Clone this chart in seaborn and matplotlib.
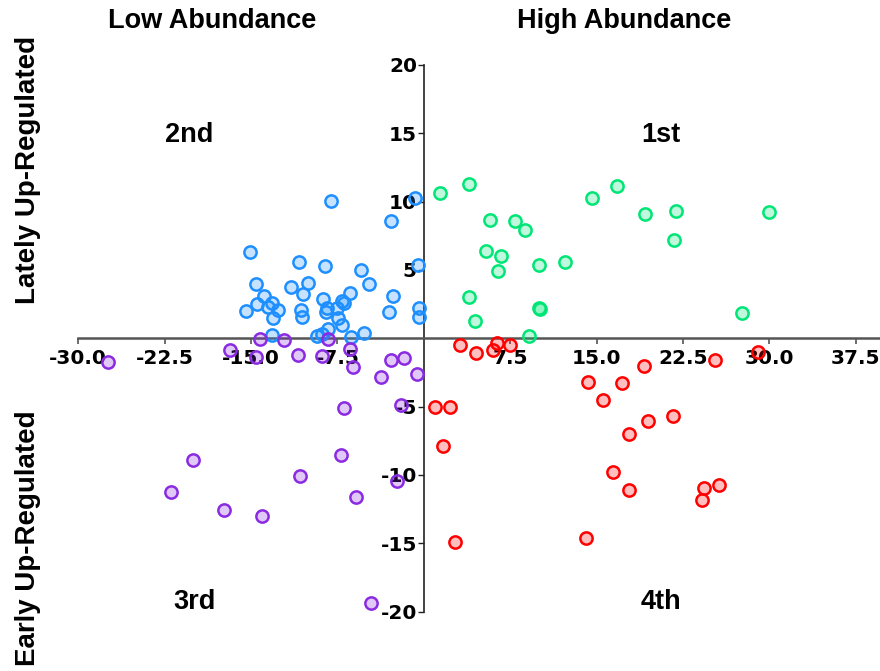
import matplotlib
matplotlib.use("Agg")
import matplotlib.pyplot as plt
import seaborn as sns
import numpy as np

# Quadrant point sets (x = abundance score, y = regulation timing score)
q1_x = [1.39, 3.96, 14.63, 16.77, 19.19, 21.88, 29.93, 21.71, 5.77, 7.94, 8.74,
        5.37, 6.73, 6.47, 9.96, 12.24, 3.96, 4.42, 10.0, 10.1, 27.65, 9.13]
q1_y = [10.62, 11.28, 10.23, 11.13, 9.11, 9.30, 9.23, 7.21, 8.65, 8.60, 7.89,
        6.42, 6.04, 4.94, 5.33, 5.60, 3.04, 1.26, 2.20, 2.16, 1.82, 0.18]

q2_x = [-8.02, -0.80, -2.88, -15.13, -10.82, -8.57, -0.52, -5.42, -14.54, -11.54,
        -10.10, -10.47, -4.73, -13.90, -6.41, -2.68, -14.48, -13.56, -13.19, -12.64,
        -15.44, -13.13, -8.74, -10.68, -10.59, -8.45, -8.51, -7.56, -7.13, -6.93,
        -7.45, -7.07, -3.03, -0.43, -0.43, -13.21, -9.29, -8.80, -8.36, -6.35, -5.19]
q2_y = [10.06, 10.30, 8.60, 6.33, 5.55, 5.28, 5.38, 5.01, 3.96, 3.77,
        4.01, 3.23, 3.99, 3.11, 3.28, 3.11, 2.50, 2.30, 2.57, 2.06,
        2.01, 1.45, 2.87, 2.06, 1.59, 2.18, 1.89, 2.25, 2.69, 2.55,
        1.45, 0.99, 1.94, 2.21, 1.57, 0.23, 0.18, 0.31, 0.67, 0.06, 0.38]

q3_x = [-27.41, -14.20, -12.12, -8.28, -16.82, -14.57, -10.91, -8.88, -6.41, -6.15,
        -2.82, -1.73, -3.69, -0.57, -2.02, -6.93, -20.05, -7.21, -10.74, -2.30,
        -21.93, -5.91, -17.37, -14.08, -4.61]
q3_y = [-1.72, -0.06, -0.13, -0.06, -0.87, -1.35, -1.23, -1.28, -0.79, -2.13,
        -1.57, -1.45, -2.87, -2.62, -4.86, -5.13, -8.89, -8.52, -10.11, -10.42,
        -11.28, -11.60, -12.57, -13.03, -19.37]

q4_x = [3.12, 4.54, 5.97, 6.35, 7.51, 29.00, 25.28, 19.11, 14.29, 17.20, 15.56,
        0.95, 2.29, 19.48, 21.62, 17.81, 1.65, 16.40, 17.84, 24.28, 25.66, 24.13,
        2.71, 14.06]
q4_y = [-0.48, -1.11, -0.84, -0.38, -0.48, -0.97, -1.60, -2.06, -3.23, -3.31, -4.52,
        -5.03, -5.06, -6.04, -5.69, -7.01, -7.89, -9.82, -11.13, -10.96, -10.72, -11.84,
        -14.94, -14.62]

x_ticks = [-30.0, -22.5, -15.0, -7.5, 7.5, 15.0, 22.5, 30.0, 37.5]
y_ticks = [20, 15, 10, 5, -5, -10, -15, -20]

quadrant_names = ["1st", "2nd", "3rd", "4th"]
edge_colors = ["#00e676", "#1e8fff", "#8a2be2", "#ff0000"]

sns.set_theme(style="white")
plt.rcParams["font.family"] = ["Liberation Sans", "DejaVu Sans"]
plt.rcParams["text.color"] = "black"

fig = plt.figure(figsize=(8.8, 6.71), dpi=100)
ax = fig.add_axes([78.3 / 880, 1 - 611.5 / 671, (880 - 78.3) / 880, (611.5 - 65) / 671])
ax.set_facecolor("white")

groups = [(q1_x, q1_y), (q2_x, q2_y), (q3_x, q3_y), (q4_x, q4_y)]
for (gx, gy), ec in zip(groups, edge_colors):
    r, g, b = matplotlib.colors.to_rgb(ec)
    sns.scatterplot(x=gx, y=gy, ax=ax, s=78, color=(r, g, b, 0.25),
                    edgecolor=ec, linewidth=1.8, clip_on=False, zorder=3)

ax.set_xlim(-30, 39.6)
ax.set_ylim(-20, 20)

# Axes crossing at the origin
for side in ["top", "right"]:
    ax.spines[side].set_visible(False)
ax.spines["left"].set_position(("data", 0))
ax.spines["bottom"].set_position(("data", 0))
ax.spines["bottom"].set_color("#555555")
ax.spines["bottom"].set_linewidth(1.8)
ax.spines["left"].set_color("#222222")
ax.spines["left"].set_linewidth(1.2)
ax.spines["left"].set_zorder(2)
ax.spines["bottom"].set_zorder(2)

ax.set_xticks(x_ticks)
ax.set_xticklabels([f"{v:.1f}" for v in x_ticks])
ax.set_yticks(y_ticks)
ax.set_yticklabels([f"{v:d}" for v in y_ticks])
ax.tick_params(axis="x", direction="out", length=4, width=1.2, color="#555555",
               pad=4, bottom=True)
ax.tick_params(axis="y", direction="out", length=4, width=1.0, color="#222222",
               pad=1, left=True)
for lab in ax.get_xticklabels() + ax.get_yticklabels():
    lab.set_fontfamily("DejaVu Sans")
    lab.set_fontweight("heavy")
    lab.set_fontsize(14.5)
    lab.set_color("black")
ax.grid(False)

# Quadrant labels
quad_pos = [(20.6, 14.9), (-20.4, 14.9), (-19.9, -19.3), (20.6, -19.3)]
for name, (qx, qy) in zip(quadrant_names, quad_pos):
    ax.text(qx, qy, name, ha="center", va="center", fontsize=19.5,
            fontweight="bold", color="black")

# Column headers and row labels
fig.text(212 / 880, 1 - 21 / 671, "Low Abundance", ha="center", va="center",
         fontsize=19.5, fontweight="bold", color="black")
fig.text(624 / 880, 1 - 21 / 671, "High Abundance", ha="center", va="center",
         fontsize=19.5, fontweight="bold", color="black")
fig.text(28 / 880, 1 - 170 / 671, "Lately Up-Regulated", ha="center", va="center",
         rotation=90, fontsize=20, fontweight="bold", color="black")
fig.text(28 / 880, 1 - 538 / 671, "Early Up-Regulated", ha="center", va="center",
         rotation=90, fontsize=20, fontweight="bold", color="black")

fig.savefig("out.png", dpi=100, facecolor="white")
